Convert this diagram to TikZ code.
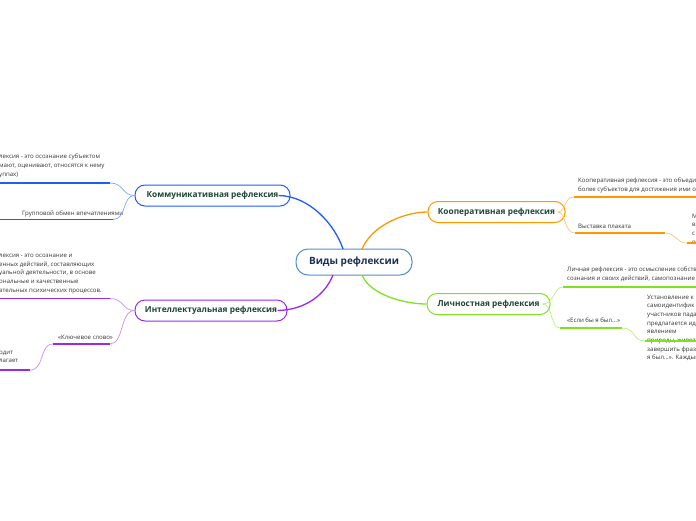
\documentclass[tikz,border=0pt]{standalone}
\usepackage{fontspec}
\setmainfont{Open Sans}
\definecolor{bluD}{HTML}{1F5CFF}
\definecolor{bluL}{HTML}{7FA5FF}
\definecolor{purD}{HTML}{9C27EF}
\definecolor{purL}{HTML}{C88CF8}
\definecolor{orgD}{HTML}{FF9800}
\definecolor{orgL}{HTML}{FFC870}
\definecolor{grnD}{HTML}{7EE31D}
\definecolor{grnL}{HTML}{B8F07E}
\definecolor{txt}{HTML}{333333}
\definecolor{ttl}{HTML}{1D4438}
\definecolor{cenB}{HTML}{4F8FCF}
\definecolor{cenT}{HTML}{1B2F55}
\begin{document}
\begin{tikzpicture}[x=1pt,y=-1pt,
  central/.style={draw=cenB, line width=1pt, rounded corners=12pt, fill=white,
    minimum width=116pt, minimum height=26pt, text=cenT,
    font=\bfseries\fontsize{10}{12}\selectfont},
  topic/.style={line width=1pt, rounded corners=10pt, fill=white,
    minimum height=21pt, text=ttl, font=\bfseries\fontsize{8.3}{10}\selectfont},
  small/.style={font=\fontsize{6.1}{8.7}\selectfont, text=txt, align=left, inner sep=0pt},
  ul/.style={line width=1.6pt},
  cv/.style={line width=0.7pt},
  mainc/.style={line width=1.3pt}]
\useasboundingbox (0,0) rectangle (696,520);
\clip (0,0) rectangle (696,520);

% central and topics
\node[central] (c) at (354,262) {Виды рефлексии};
\node[topic, draw=bluD, minimum width=155pt] (k) at (212.5,195.5) {Коммуникативная рефлексия};
\node[topic, draw=purD, minimum width=152pt] (i) at (211,310.5) {Интеллектуальная рефлексия};
\node[topic, draw=orgD, minimum width=137pt] (o) at (496.5,212) {Кооперативная рефлексия};
\node[topic, draw=grnD, minimum width=123pt] (l) at (488.5,304) {Личностная рефлексия};

% coordinates on central box
\coordinate (cb) at (343,249);
\coordinate (co) at (362,249);
\coordinate (cp) at (333,275);
\coordinate (cg) at (362,275);

% main connectors
\draw[mainc, bluD] (cb) .. controls (335,225) and (310,196) .. ([xshift=-12pt]k.east);
\draw[mainc, purD] (cp) .. controls (325,295) and (305,310) .. ([xshift=-10pt]i.east);
\draw[mainc, orgD] (co) .. controls (372,225) and (405,212) .. (o.west);
\draw[mainc, grnD] (cg) .. controls (370,295) and (405,304) .. (l.west);

% --- Коммуникативная children
\node[small, anchor=north west] (k1) at (-1,154) {лексия - это осознание субъектом\\мают, оценивают, относятся к нему\\уппах)};
\coordinate (k1a) at (0,183); \coordinate (k1b) at (110,183);
\draw[ul, bluD] (k1a) -- (k1b);
\draw[cv, bluL] (k1b) .. controls (124,183) and (122,195.5) .. (k.west);
\node[small, anchor=base west] (k2) at (22,215) {Групповой обмен впечатлениями};
\coordinate (k2a) at (0,219.5); \coordinate (k2b) at (113,219.5);
\draw[ul, bluD] (k2a) -- (k2b);
\draw[cv, bluL] (k2b) .. controls (127,219.5) and (122,195.5) .. (k.west);

% --- Интеллектуальная children
\node[small, anchor=north west] (i1) at (-1,254) {лексия - это осознание и\\енных действий, составляющих\\уальной деятельности, в основе\\ональные и качественные\\ательных психических процессов.};
\coordinate (i1a) at (0,298.5); \coordinate (i1b) at (110,298.5);
\draw[ul, purD] (i1a) -- (i1b);
\draw[cv, purL] (i1b) .. controls (124,298.5) and (122,310.5) .. (i.west);
\node[small, anchor=base west] (i2) at (58,339) {«Ключевое слово»};
\coordinate (i2a) at (53,344); \coordinate (i2b) at (110,344);
\draw[ul, purD] (i2a) -- (i2b);
\draw[cv, purL] (i2b) .. controls (124,344) and (120,310.5) .. (i.west);
\node[small, anchor=north west] (i3) at (-1,350.5) {одит\\лагает};
\coordinate (i3a) at (0,370); \coordinate (i3b) at (30,370);
\draw[ul, purD] (i3a) -- (i3b);
\draw[cv, purL] (i3b) .. controls (45,370) and (39,344) .. (i2a);

% --- Кооперативная children
\node[small, anchor=north west] (o1) at (578,177.5) {Кооперативная рефлексия - это объединение двух или\\более субъектов для достижения ими общей цели};
\coordinate (o1a) at (574,197); \coordinate (o1b) at (700,197);
\draw[ul, orgD] (o1a) -- (o1b);
\draw[cv, orgL] ([xshift=-8pt]o.east) .. controls (566,212) and (564,197) .. (o1a);
\node[small, anchor=base west] (o2) at (578,228.5) {Выставка плаката};
\coordinate (o2a) at (575,233); \coordinate (o2b) at (665,233);
\draw[ul, orgD] (o2a) -- (o2b);
\draw[cv, orgL] ([xshift=-8pt]o.east) .. controls (566,212) and (564,233) .. (o2a);
\node[small, anchor=north west] (o3) at (692,213.5) {М\\в\\с\\п};
\coordinate (o3a) at (687,243); \coordinate (o3b) at (700,243);
\draw[ul, orgD] (o3a) -- (o3b);
\draw[cv, orgL] (o2b) .. controls (676,233) and (676,243) .. (o3a);

% --- Личностная children
\node[small, anchor=north west] (l1) at (567,266.5) {Личная рефлексия - это осмысление собственного\\сознания и своих действий, самопознание};
\coordinate (l1a) at (563,287); \coordinate (l1b) at (700,287);
\draw[ul, grnD] (l1a) -- (l1b);
\draw[cv, grnL] ([xshift=-8pt]l.east) .. controls (555,304) and (553,287) .. (l1a);
\node[small, anchor=base west] (l2) at (567,322.5) {«Если бы я был...»};
\coordinate (l2a) at (560,328); \coordinate (l2b) at (622,328);
\draw[ul, grnD] (l2a) -- (l2b);
\draw[cv, grnL] ([xshift=-8pt]l.east) .. controls (553,304) and (550,328) .. (l2a);
\node[small, anchor=north west] (l3) at (647,294.5) {Установление к\\самоидентифик\\участников пада\\предлагается ид\\явлением\\природы, живот\\завершить фраз\\я был...». Каждый};
\coordinate (l3a) at (645,341); \coordinate (l3b) at (700,341);
\draw[ul, grnD] (l3a) -- (l3b);
\draw[cv, grnL] (l2b) .. controls (636,328) and (632,341) .. (l3a);
\end{tikzpicture}
\end{document}
